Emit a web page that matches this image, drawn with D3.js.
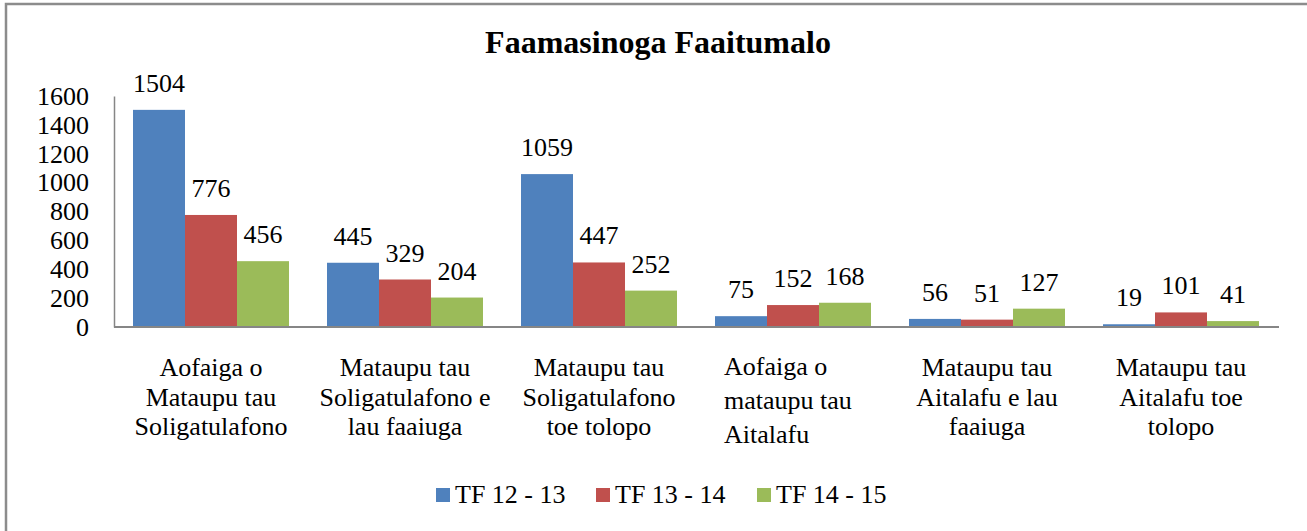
<!DOCTYPE html>
<html>
<head>
<meta charset="utf-8">
<script src="https://cdn.jsdelivr.net/npm/d3@7"></script>
<style>
body { margin: 0; background: #fff; }
text { font-family: "Liberation Serif", "Times New Roman", serif; fill: #000; }
</style>
</head>
<body>
<svg id="chart" width="1307" height="531"></svg>
<script>
// chart data
var categories = [
  ["Aofaiga o", "Mataupu tau", "Soligatulafono"],
  ["Mataupu tau", "Soligatulafono e", "lau faaiuga"],
  ["Mataupu tau", "Soligatulafono", "toe tolopo"],
  ["Aofaiga o", "mataupu tau", "Aitalafu"],
  ["Mataupu tau", "Aitalafu e lau", "faaiuga"],
  ["Mataupu tau", "Aitalafu toe", "tolopo"]
];
var seriesNames = ["TF 12 - 13", "TF 13 - 14", "TF 14 - 15"];
var tf1213 = [1504, 445, 1059, 75, 56, 19];
var tf1314 = [776, 329, 447, 152, 51, 101];
var tf1415 = [456, 204, 252, 168, 127, 41];
var yTicks = [0, 200, 400, 600, 800, 1000, 1200, 1400, 1600];
var colors = ["#4F81BD", "#C0504D", "#9BBB59"];

var svg = d3.select("#chart");
var W = 1307, H = 531;
var plotLeft = 114, plotRight = 1278, plotTop = 96, plotBottom = 327;

// frame
svg.append("rect")
   .attr("x", 6).attr("y", 4)
   .attr("width", W + 10).attr("height", H + 10)
   .attr("fill", "none")
   .attr("stroke", "#8c8c8c")
   .attr("stroke-width", 2.5);

// title
svg.append("text")
   .attr("x", 658).attr("y", 53)
   .attr("text-anchor", "middle")
   .attr("font-size", 32)
   .attr("font-weight", "bold")
   .text("Faamasinoga Faaitumalo");

var x0 = d3.scaleBand()
           .domain(d3.range(categories.length))
           .range([plotLeft, plotRight])
           .paddingInner(38 / 194)
           .paddingOuter(19 / 194);

var x1 = d3.scaleBand()
           .domain(d3.range(seriesNames.length))
           .range([0, x0.bandwidth()]);

var y = d3.scaleLinear()
          .domain([0, 1600])
          .range([plotBottom, plotTop]);

// y axis labels
var yAxis = d3.axisLeft(y).tickValues(yTicks).tickFormat(d3.format("d")).tickSize(0).tickPadding(25);
var gy = svg.append("g")
            .attr("transform", "translate(" + plotLeft + ",0)")
            .call(yAxis);
gy.select(".domain").attr("stroke", "#868686").attr("stroke-width", 1.5);
gy.selectAll("text")
  .attr("font-family", "Liberation Serif")
  .attr("font-size", 26)
  .attr("fill", "#000");

// bars
var series = [tf1213, tf1314, tf1415];
var groups = svg.append("g").selectAll("g")
                .data(series)
                .enter()
                .append("g")
                .attr("fill", function(d, s) { return colors[s]; });

groups.selectAll("rect")
      .data(function(d, s) { return d.map(function(v, i) { return {s: s, i: i, v: v}; }); })
      .enter()
      .append("rect")
      .attr("x", function(d) { return x0(d.i) + x1(d.s); })
      .attr("y", function(d) { return y(d.v); })
      .attr("width", x1.bandwidth())
      .attr("height", function(d) { return y(0) - y(d.v); });

// value labels
groups.selectAll("text")
      .data(function(d, s) { return d.map(function(v, i) { return {s: s, i: i, v: v}; }); })
      .enter()
      .append("text")
      .attr("x", function(d) { return x0(d.i) + x1(d.s) + x1.bandwidth() / 2; })
      .attr("y", function(d) { return y(d.v) - 18; })
      .attr("text-anchor", "middle")
      .attr("font-size", 26)
      .attr("fill", "#000")
      .text(function(d) { return d.v; });

// baseline
svg.append("line")
   .attr("x1", plotLeft).attr("x2", plotRight + 1)
   .attr("y1", y(0)).attr("y2", y(0))
   .attr("stroke", "#868686")
   .attr("stroke-width", 2);

// category labels
var catLabels = svg.append("g").selectAll("text")
                   .data(categories)
                   .enter()
                   .append("text")
                   .attr("font-size", 26)
                   .attr("text-anchor", function(d, i) { return i == 3 ? "start" : "middle"; })
                   .attr("transform", function(d, i) {
                     if (i == 3) return "translate(724,375)";
                     return "translate(" + (x0(i) + x0.bandwidth() / 2) + ",376)";
                   });
catLabels.selectAll("tspan")
         .data(function(d, i) { return d.map(function(t) { return {t: t, c: i}; }); })
         .enter()
         .append("tspan")
         .attr("x", 0)
         .attr("dy", function(d, j) { return j == 0 ? 0 : (d.c == 3 ? 34 : 29.5); })
         .text(function(d) { return d.t; });

// legend
var legX = [436, 596, 757];
var leg = svg.append("g").selectAll("g")
             .data(seriesNames)
             .enter()
             .append("g")
             .attr("transform", function(d, i) { return "translate(" + legX[i] + ",488)"; });
leg.append("rect")
   .attr("width", 14).attr("height", 14)
   .attr("fill", function(d, i) { return colors[i]; });
leg.append("text")
   .attr("x", 19).attr("y", 15)
   .attr("font-size", 26)
   .text(function(d) { return d; });
</script>
</body>
</html>
